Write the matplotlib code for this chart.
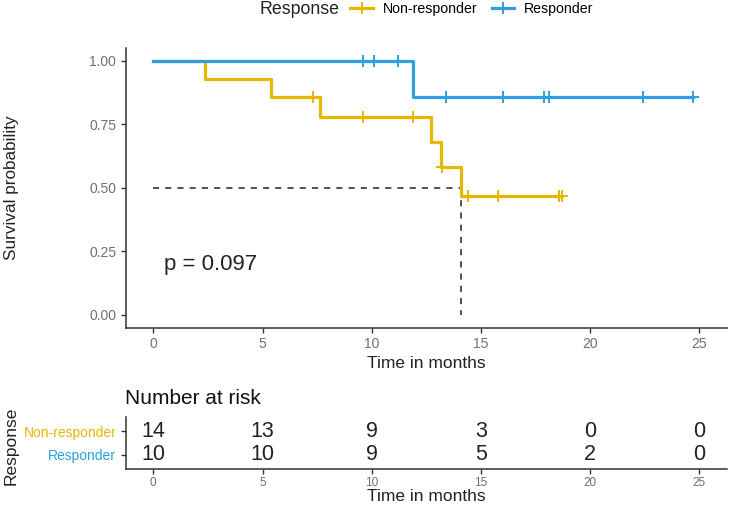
import numpy as np
import matplotlib
matplotlib.use('Agg')
import matplotlib.pyplot as plt
from matplotlib.lines import Line2D

plt.rcParams['font.family'] = ['Liberation Sans', 'DejaVu Sans']

# colours of the two groups
col_nr = '#E7B800'
col_rs = '#2E9FDF'

# Kaplan-Meier steps (time in months, survival)
nr_step_t = [0, 2.36, 5.4, 7.65, 12.7, 13.15, 14.1, 18.7]
nr_step_s = [1.0, 0.929, 0.857, 0.779, 0.682, 0.584, 0.467, 0.467]
nr_cens = [7.3, 9.6, 11.87, 13.2, 14.4, 15.8, 18.55, 18.7]

rs_step_t = [0, 11.9, 24.7]
rs_step_s = [1.0, 0.857, 0.857]
rs_cens = [9.6, 10.1, 11.2, 13.4, 16.0, 17.9, 18.1, 22.4, 24.7]

median_nr = 14.1
p_text = 'p = 0.097'

# number at risk table
risk_times = [0, 5, 10, 15, 20, 25]
nr_risk = [14, 13, 9, 3, 0, 0]
rs_risk = [10, 10, 9, 5, 2, 0]

groups = ['Non-responder', 'Responder']

tick_col = '#707070'
axis_col = '#333333'
text_col = '#222222'


def surv_at(step_t, step_s, t):
    idx = np.searchsorted(step_t, t, side='right') - 1
    return np.array(step_s)[idx]


def style_axes(ax):
    for s in ['top', 'right']:
        ax.spines[s].set_visible(False)
    for s in ['left', 'bottom']:
        ax.spines[s].set_color(axis_col)
        ax.spines[s].set_linewidth(1.1)
    ax.tick_params(colors=axis_col, length=3.5, width=1.0)


fig = plt.figure(figsize=(7.36, 5.12), dpi=100)

# survival curves
ax = fig.add_axes([0.1712, 0.36, 0.8162, 0.5457])
style_axes(ax)

ax.plot([0, median_nr], [0.5, 0.5], ls=(0, (4, 4)), color='#222222', lw=1.1)
ax.plot([median_nr, median_nr], [0.5, 0.0], ls=(0, (4, 4)), color='#222222', lw=1.1)

ax.step(nr_step_t, nr_step_s, where='post', color=col_nr, lw=2.3)
ax.step(rs_step_t, rs_step_s, where='post', color=col_rs, lw=2.3)
ax.plot(nr_cens, surv_at(nr_step_t, nr_step_s, nr_cens), ls='none', marker='+',
        ms=9, mew=1.4, color=col_nr)
ax.plot(rs_cens, surv_at(rs_step_t, rs_step_s, rs_cens), ls='none', marker='+',
        ms=9, mew=1.4, color=col_rs)

ax.text(0.5, 0.2, p_text, fontsize=16, color=text_col, ha='left', va='center')

ax.set_xlim(-1.25, 26.25)
ax.set_ylim(-0.05, 1.05)
ax.set_xticks(risk_times)
ax.set_yticks([0, 0.25, 0.5, 0.75, 1.0])
ax.set_yticklabels(['0.00', '0.25', '0.50', '0.75', '1.00'])
for lab in ax.get_xticklabels() + ax.get_yticklabels():
    lab.set_color(tick_col)
    lab.set_fontsize(10)
ax.set_xlabel('Time in months', fontsize=12.5, color=text_col, labelpad=3)
ax.set_ylabel('Survival probability', fontsize=12.3, color=text_col)
ax.yaxis.set_label_coords(-0.178, 0.5)

# legend on top
fig.text(0.353, 0.982, 'Response', fontsize=12.8, color=text_col, ha='left', va='center')
handles = [Line2D([0], [0], color=col_nr, lw=2.3, marker='+', ms=9, mew=1.4),
           Line2D([0], [0], color=col_rs, lw=2.3, marker='+', ms=9, mew=1.4)]
fig.legend(handles, groups, loc='center left', bbox_to_anchor=(0.476, 0.982),
           ncol=2, frameon=False, fontsize=10.2, handlelength=1.6, handletextpad=0.7,
           columnspacing=1.0, borderpad=0, borderaxespad=0)

# risk table
ax2 = fig.add_axes([0.1712, 0.084, 0.8162, 0.1016])
style_axes(ax2)
ax2.set_xlim(-1.25, 26.25)
ax2.set_ylim(0.4, 2.6)
for t, n in zip(risk_times, nr_risk):
    ax2.text(t, 2, str(n), fontsize=15.5, ha='center', va='center', color=text_col)
for t, n in zip(risk_times, rs_risk):
    ax2.text(t, 1, str(n), fontsize=15.5, ha='center', va='center', color=text_col)
ax2.set_xticks(risk_times)
ax2.tick_params(axis='x', pad=2.5)
for lab in ax2.get_xticklabels():
    lab.set_color(tick_col)
    lab.set_fontsize(8.5)
ax2.set_yticks([2, 1])
ax2.set_yticklabels(groups, fontsize=10)
ax2.get_yticklabels()[0].set_color(col_nr)
ax2.get_yticklabels()[1].set_color(col_rs)
ax2.set_xlabel('Time in months', fontsize=12.5, color=text_col, labelpad=-0.5)
ax2.set_ylabel('Response', fontsize=12.5, color=text_col)
ax2.yaxis.set_label_coords(-0.178, 0.45)
ax2.set_title('Number at risk', fontsize=15, color='#111111', loc='left',
              x=-0.002, pad=9)

fig.savefig('out.png', dpi=100)
